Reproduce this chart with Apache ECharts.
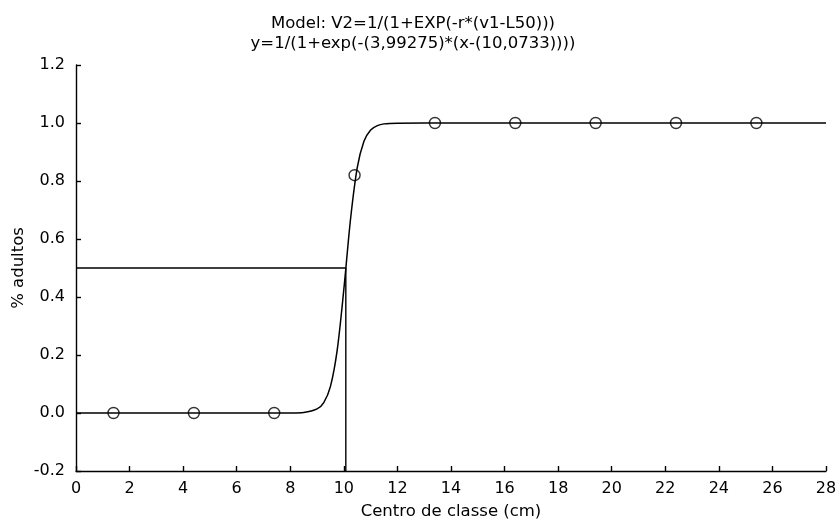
<!DOCTYPE html>
<html><head><meta charset="utf-8">
<script src="https://cdn.jsdelivr.net/npm/echarts@6/dist/echarts.min.js"></script>
<style>html,body{margin:0;padding:0;background:#fff}#c{width:840px;height:521px}</style>
</head><body><div id="c"></div>
<script>
var titleLines = ["Model: V2=1/(1+EXP(-r*(v1-L50)))", "y=1/(1+exp(-(3,99275)*(x-(10,0733))))"];
var xName = "Centro de classe (cm)";
var yName = "% adultos";
var obsX = [1.4, 4.4, 7.4, 10.4, 13.4, 16.4, 19.4, 22.4, 25.4];
var obsY = [0, 0, 0, 0.82, 1, 1, 1, 1, 1];
var curveX = [0, 2, 4, 6, 7, 8, 8.5, 9, 9.25, 9.5, 9.75, 10, 10.25, 10.5, 10.75, 11, 11.25, 11.5, 12, 13, 14, 16, 20, 24, 28];
var curveY = [0, 0, 0, 0, 0, 0.0003, 0.002, 0.014, 0.036, 0.092, 0.216, 0.427, 0.669, 0.846, 0.937, 0.976, 0.991, 0.997, 0.9995, 1, 1, 1, 1, 1, 1];
var refX = [0, 10.0733, 10.0733];
var refY = [0.5, 0.5, -0.2];
var xTicks = [0, 28, 2];
var yTicks = [-0.2, 1.2, 0.2];

function pairs(a, b){ return a.map(function(v,i){ return [v, b[i]]; }); }
var font = "'DejaVu Sans', sans-serif";
var chart = echarts.init(document.getElementById('c'), null, {renderer:'canvas'});
chart.setOption({
  animation:false,
  backgroundColor:'#fff',
  title:{
    text: titleLines.join('\n'), left:408, textAlign:'center', top:9,
    textStyle:{fontFamily:font, fontSize:16.5, fontWeight:'normal', color:'#000', lineHeight:20}
  },
  grid:{left:76, right:14, top:65, bottom:50, outerBoundsMode:'none', containLabel:false},
  xAxis:{
    type:'value', min:xTicks[0], max:xTicks[1], interval:xTicks[2],
    name:xName, nameLocation:'middle', nameGap:32, nameMoveOverlap:false,
    nameTextStyle:{fontFamily:font, fontSize:16.5, color:'#000'},
    axisLine:{onZero:false, lineStyle:{color:'#000', width:1.4}},
    axisTick:{inside:true, length:5, lineStyle:{color:'#000', width:1.4}},
    axisLabel:{fontFamily:font, fontSize:16, color:'#000', margin:10},
    splitLine:{show:false}
  },
  yAxis:{
    type:'value', min:yTicks[0], max:yTicks[1], interval:yTicks[2],
    name:yName, nameLocation:'middle', nameGap:49, nameMoveOverlap:false,
    nameTextStyle:{fontFamily:font, fontSize:16.5, color:'#000'},
    axisLine:{onZero:false, lineStyle:{color:'#000', width:1.4}},
    axisTick:{inside:true, length:5, lineStyle:{color:'#000', width:1.4}},
    axisLabel:{fontFamily:font, fontSize:16, color:'#000', margin:11,
      formatter:function(v){ return v.toFixed(1); }},
    splitLine:{show:false}
  },
  series:[
    {type:'line', data:pairs(refX, refY), showSymbol:false, symbol:'none',
     lineStyle:{color:'#000', width:1.4}, z:1},
    {type:'line', data:pairs(curveX, curveY), smooth:0.3, showSymbol:false, symbol:'none',
     lineStyle:{color:'#000', width:1.5}, z:2},
    {type:'scatter', data:pairs(obsX, obsY), symbol:'circle', symbolSize:11,
     itemStyle:{color:'rgba(255,255,255,0)', borderColor:'#000', borderWidth:1.4}, z:3}
  ]
});
</script></body></html>
